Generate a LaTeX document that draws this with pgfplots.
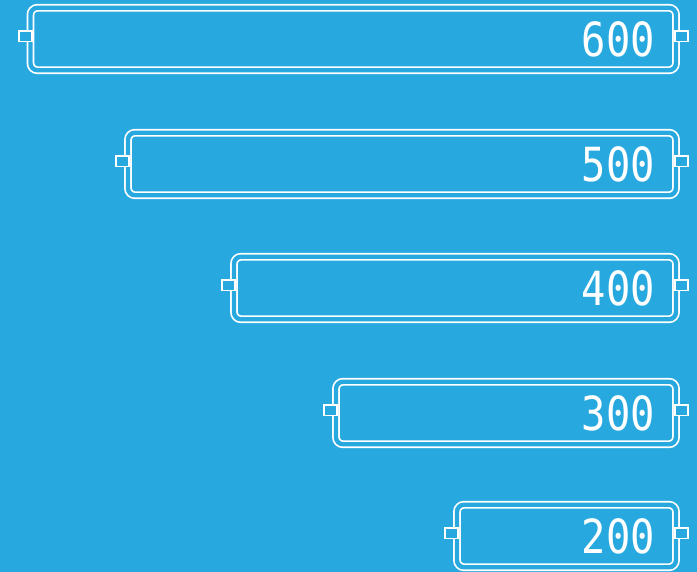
\documentclass[border=0pt]{standalone}
\usepackage{fontspec}
\setmainfont{DejaVu Sans Mono}
\usepackage{pgfplots}
\usepackage{pgfplotstable}
\pgfplotsset{compat=1.18}
\definecolor{bg}{HTML}{27A9E0}

% battery tabs, drawn in screen units
\pgfdeclareplotmark{tabL}{\pgfpathrectangle{\pgfpoint{0pt}{-2.6pt}}{\pgfpoint{13pt}{10.3pt}}\pgfusepathqfillstroke}
\pgfdeclareplotmark{tabR}{\pgfpathrectangle{\pgfpoint{-13pt}{-2.6pt}}{\pgfpoint{13pt}{10.3pt}}\pgfusepathqfillstroke}

% len = bar length as drawn, y = bar centre, lab = value shown
\pgfplotstableread{
len   y   lab
645.5 533 600
548   408 500
442   284 400
340   159 300
219   36  200
}\bars

\begin{document}
\begin{tikzpicture}
\fill[bg] (0,0) rectangle (697pt,572pt);
\begin{axis}[
at={(0,0)}, anchor=south west,
scale only axis,
width=697pt, height=572pt,
xmin=-21, xmax=676,
ymin=0, ymax=572,
x dir=reverse,
hide axis,
clip=false,
]
\addplot[only marks, mark=tabL, mark options={draw=white, fill=bg, line width=1.7pt}]
  table[x expr=\thisrow{len}+11.8, y=y]{\bars};
\addplot[only marks, mark=tabR, mark options={draw=white, fill=bg, line width=1.7pt}]
  table[x expr=-12.3, y=y]{\bars};
\addplot[xbar, bar width=62.5pt, fill=bg, draw=white, line width=1.7pt,
  double=bg, double distance=4.4pt, rounded corners=7pt]
  table[x=len, y=y]{\bars};
\addplot[draw=none, mark=none, point meta=explicit symbolic,
  nodes near coords,
  nodes near coords style={anchor=east, inner sep=0pt, text=white,
    font=\fontsize{47}{47}\selectfont, xscale=0.86}]
  table[x expr=21, y=y, meta=lab]{\bars};
\end{axis}
\pgfresetboundingbox
\path[use as bounding box] (0,0) rectangle (697pt,572pt);
\end{tikzpicture}
\end{document}
